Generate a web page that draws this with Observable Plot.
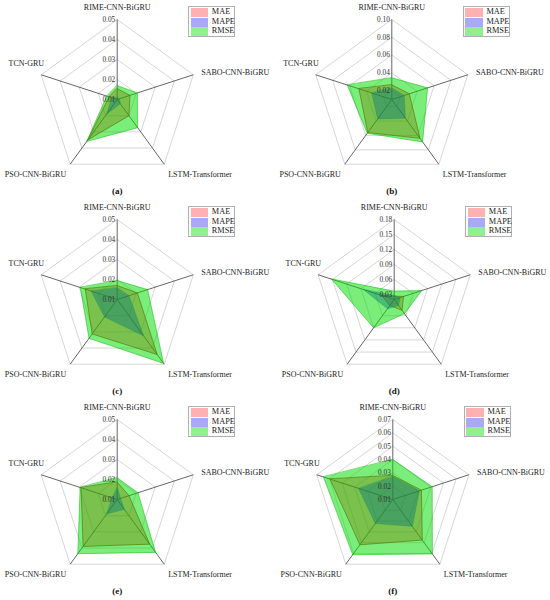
<!DOCTYPE html>
<html><head><meta charset="utf-8">
<script src="https://cdn.jsdelivr.net/npm/d3@7"></script>
<script src="https://cdn.jsdelivr.net/npm/@observablehq/plot@0.6"></script>
<style>
html,body{margin:0;padding:0;background:#fff;}
#grid{position:relative;width:550px;height:600px;font-family:"Liberation Serif","Times New Roman",serif;overflow:hidden;}
.panel{position:absolute;width:275px;height:200px;}
.panel svg{position:absolute;left:0;top:0;}
.legend{position:absolute;top:6px;width:45px;height:29px;border:1px solid #b0b0b0;background:#fff;padding:0;}
.legend .row{position:absolute;left:1.5px;height:9px;width:44px;}
.legend .sw{position:absolute;left:0;top:0;width:17.5px;height:9px;}
.legend .lb{position:absolute;left:21px;top:-1px;font-size:8.3px;line-height:10px;color:#222;}
</style></head><body><div id="grid"></div>
<script>
// ---- data ----
const models = ["RIME-CNN-BiGRU","SABO-CNN-BiGRU","LSTM-Transformer","PSO-CNN-BiGRU","TCN-GRU"];
const metrics = ["MAE","MAPE","RMSE"];
const panelNames = ["(a)","(b)","(c)","(d)","(e)","(f)"];

const maeA  = [0.0154,0.0167,0.0200,0.0350,0.0143];
const mapeA = [0.0110,0.0112,0.0127,0.0190,0.0127];
const rmseA = [0.0170,0.0206,0.0274,0.0360,0.0155];

const maeB  = [0.0266,0.0307,0.0640,0.0560,0.0489];
const mapeB = [0.0230,0.0247,0.0360,0.0370,0.0338];
const rmseB = [0.0345,0.0524,0.0690,0.0570,0.0627];

const maeC  = [0.0170,0.0206,0.0440,0.0313,0.0268];
const mapeC = [0.0159,0.0162,0.0324,0.0208,0.0237];
const rmseC = [0.0195,0.0260,0.0495,0.0340,0.0294];

const maeD  = [0.0267,0.0396,0.0467,0.0350,0.0460];
const mapeD = [0.0280,0.0327,0.0350,0.0430,0.0850];
const rmseD = [0.0368,0.0780,0.0550,0.0900,0.1520];

const maeE  = [0.0187,0.0162,0.0376,0.0390,0.0290];
const mapeE = [0.0159,0.0118,0.0161,0.0190,0.0127];
const rmseE = [0.0209,0.0209,0.0427,0.0435,0.0295];

const maeF  = [0.0280,0.0326,0.0476,0.0520,0.0595];
const mapeF = [0.0273,0.0310,0.0349,0.0323,0.0370];
const rmseF = [0.0400,0.0411,0.0605,0.0612,0.0647];

const radialMin = [0.01,0.01,0.01,0.02,0.01,0.01];
const radialMax = [0.05,0.10,0.05,0.18,0.05,0.07];
const ticksA = [0.01,0.02,0.03,0.04,0.05];
const ticksB = [0.02,0.04,0.06,0.08,0.10];
const ticksC = [0.01,0.02,0.03,0.04,0.05];
const ticksD = [0.03,0.06,0.09,0.12,0.15,0.18];
const ticksE = [0.01,0.02,0.03,0.04,0.05];
const ticksF = [0.01,0.02,0.03,0.04,0.05,0.06,0.07];

// ---- styling / layout ----
const fillColor = {MAE:"#ff0000", MAPE:"#0000ff", RMSE:"#00dd00"};
const fillOp = {MAE:0.36, MAPE:0.4, RMSE:0.52};
const edgeColor = {MAE:"#b01010", MAPE:"#2040a0", RMSE:"#00b000"};
const edgeOp = {MAE:0.85, MAPE:0.4, RMSE:0.6};
const W = 275, H = 200, R = 80;
const panelCenters = [[116.7,99],[116.3,99],[116.7,99],[118.7,99],[116.7,99],[117.3,99]];

const panels = [
  {mae:maeA, mape:mapeA, rmse:rmseA, ticks:ticksA},
  {mae:maeB, mape:mapeB, rmse:rmseB, ticks:ticksB},
  {mae:maeC, mape:mapeC, rmse:rmseC, ticks:ticksC},
  {mae:maeD, mape:mapeD, rmse:rmseD, ticks:ticksD},
  {mae:maeE, mape:mapeE, rmse:rmseE, ticks:ticksE},
  {mae:maeF, mape:mapeF, rmse:rmseF, ticks:ticksF}
];

const ang = i => i * 2 * Math.PI / models.length;
const fmt = d3.format(".2f");
const font = "Liberation Serif, Times New Roman, serif";
const grid = document.getElementById("grid");

const labelSpec = [
  {anchor:"middle", dx:0, dy:-12},
  {anchor:"start", dx:8, dy:-2},
  {anchor:"start", dx:4, dy:10},
  {anchor:"end", dx:-4, dy:10},
  {anchor:"end", dx:3, dy:-11}
];

panels.forEach((p, pi) => {
  const [cx, cy] = panelCenters[pi];
  const lo = radialMin[pi], hi = radialMax[pi];
  const rad = v => (v - lo) / (hi - lo);

  const rings = [];
  p.ticks.filter(t => rad(t) > 1e-6).forEach(t => {
    for (let k = 0; k <= models.length; k++) {
      const a = ang(k % models.length);
      rings.push({t, x: rad(t) * Math.sin(a), y: rad(t) * Math.cos(a)});
    }
  });

  const series = {MAE: p.mae, MAPE: p.mape, RMSE: p.rmse};
  const polys = metrics.map(m => series[m].map((v, i) => ({
    metric: m, model: models[i], value: v,
    x: rad(v) * Math.sin(ang(i)), y: rad(v) * Math.cos(ang(i))
  })));

  const marks = [
    Plot.line(rings, {x:"x", y:"y", z:"t", stroke:"#cccccc", strokeWidth:0.8}),
    Plot.link(models, {x1:() => 0, y1:() => 0,
      x2:(d, i) => Math.sin(ang(i)), y2:(d, i) => Math.cos(ang(i)),
      stroke:"#555555", strokeWidth:0.9}),
    ...polys.map((pts, mi) => Plot.line(pts, {
      x:"x", y:"y", curve:"linear-closed",
      fill: fillColor[metrics[mi]], fillOpacity: fillOp[metrics[mi]],
      stroke: edgeColor[metrics[mi]], strokeOpacity: edgeOp[metrics[mi]], strokeWidth: 0.8
    })),
    Plot.text(p.ticks, {x:() => 0, y: t => rad(t), text: t => fmt(t),
      textAnchor:"end", dx:-2, fontSize:7.3, fill:"#333", fontFamily:font}),
    ...models.map((m, i) => Plot.text([m], {
      x:() => Math.sin(ang(i)), y:() => Math.cos(ang(i)), text: d => d,
      textAnchor: labelSpec[i].anchor, dx: labelSpec[i].dx, dy: labelSpec[i].dy,
      fontSize: 8, fill: "#222", fontFamily: font
    })),
    Plot.text([panelNames[pi]], {x:() => 0, frameAnchor:"bottom", dy:-7, text: d => d,
      fontWeight:"bold", fontSize:9, fill:"#111", fontFamily:font})
  ];

  const svg = Plot.plot({
    width: W, height: H, margin: 0,
    x: {domain: [-cx / R, (W - cx) / R], range: [0, W], axis: null},
    y: {domain: [-(H - cy) / R, cy / R], range: [H, 0], axis: null},
    style: {background: "transparent", overflow: "visible", fontFamily: font},
    marks
  });

  const div = document.createElement("div");
  div.className = "panel";
  div.style.left = (pi % 2) * W + "px";
  div.style.top = Math.floor(pi / 2) * H + "px";
  div.appendChild(svg);

  const leg = document.createElement("div");
  leg.className = "legend";
  leg.style.left = (cx + 71.6) + "px";
  metrics.forEach((m, mi) => {
    const row = document.createElement("div");
    row.className = "row";
    row.style.top = (1 + mi * 9.6) + "px";
    const sw = document.createElement("div");
    sw.className = "sw";
    sw.style.background = fillColor[m];
    sw.style.opacity = fillOp[m] * 0.85;
    const lb = document.createElement("div");
    lb.className = "lb";
    lb.textContent = m;
    row.appendChild(sw); row.appendChild(lb);
    leg.appendChild(row);
  });
  div.appendChild(leg);
  grid.appendChild(div);
});
</script></body></html>
